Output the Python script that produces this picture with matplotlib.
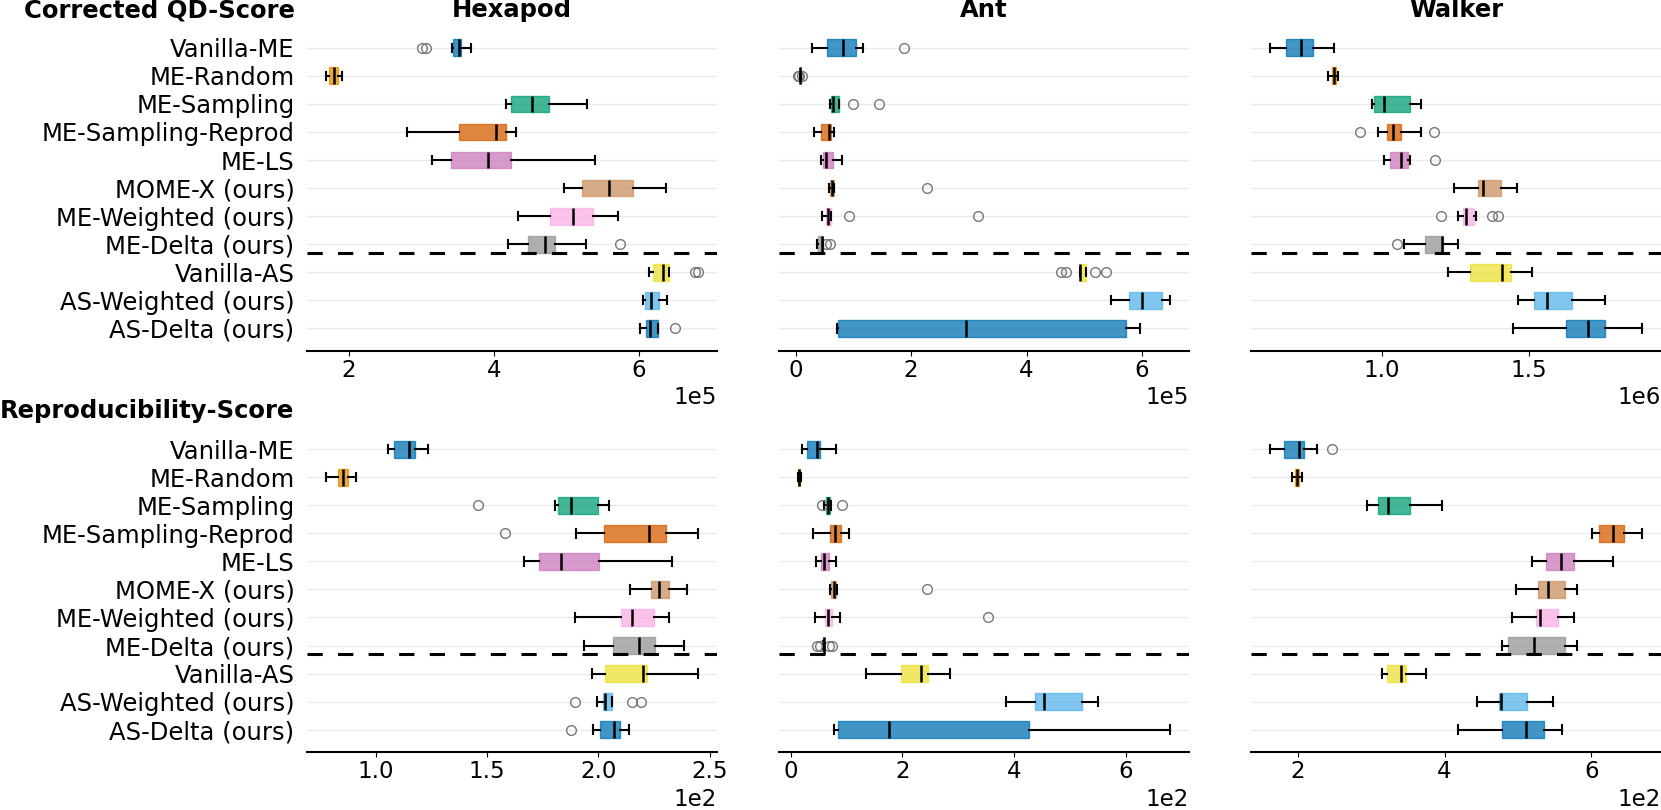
import numpy as np
import matplotlib
matplotlib.use('Agg')
import matplotlib.pyplot as plt
import seaborn as sns

methods = ['Vanilla-ME', 'ME-Random', 'ME-Sampling', 'ME-Sampling-Reprod', 'ME-LS',
           'MOME-X (ours)', 'ME-Weighted (ours)', 'ME-Delta (ours)',
           'Vanilla-AS', 'AS-Weighted (ours)', 'AS-Delta (ours)']
envs = ['Hexapod', 'Ant', 'Walker']
row_names = ['Corrected QD-Score', 'Reproducibility-Score']

# box stats per method: [whislo, q1, med, q3, whishi]
# Corrected QD-Score, hexapod (x1e5)
hexapod_qd = [[3.43, 3.44, 3.52, 3.55, 3.69], [1.68, 1.73, 1.79, 1.85, 1.90],
              [4.17, 4.24, 4.53, 4.76, 5.28], [2.80, 3.52, 4.03, 4.17, 4.30],
              [3.15, 3.41, 3.92, 4.24, 5.40], [4.97, 5.22, 5.59, 5.92, 6.37],
              [4.33, 4.77, 5.09, 5.37, 5.71], [4.19, 4.47, 4.70, 4.84, 5.27],
              [6.14, 6.20, 6.34, 6.42, 6.42], [6.06, 6.09, 6.17, 6.28, 6.39],
              [6.02, 6.10, 6.15, 6.26, 6.26]]
hexapod_qd_out = [[3.01, 3.07], [], [], [], [], [], [], [5.74], [6.78, 6.82], [], [6.50]]

# ant (x1e5)
ant_qd = [[0.29, 0.54, 0.82, 1.05, 1.17], [0.07, 0.075, 0.08, 0.085, 0.09],
          [0.59, 0.62, 0.65, 0.76, 0.755], [0.31, 0.44, 0.58, 0.62, 0.66],
          [0.44, 0.47, 0.53, 0.65, 0.81], [0.58, 0.59, 0.63, 0.67, 0.67],
          [0.46, 0.53, 0.56, 0.62, 0.62], [0.37, 0.39, 0.45, 0.47, 0.47],
          [4.92, 4.92, 4.93, 5.03, 5.03], [5.47, 5.77, 6.00, 6.35, 6.49],
          [0.72, 0.73, 2.95, 5.73, 5.97]]
ant_qd_out = [[1.87], [0.035, 0.06, 0.11], [1.00, 1.44], [], [], [2.28], [0.93, 3.16],
              [0.52, 0.59], [4.60, 4.69, 5.18, 5.38], [], []]

# walker (x1e6)
walker_qd = [[0.617, 0.671, 0.724, 0.764, 0.838], [0.817, 0.828, 0.835, 0.844, 0.851],
             [0.965, 0.972, 1.007, 1.096, 1.132], [0.986, 1.016, 1.036, 1.066, 1.134],
             [1.007, 1.026, 1.066, 1.088, 1.097], [1.246, 1.329, 1.346, 1.407, 1.462],
             [1.260, 1.277, 1.286, 1.315, 1.321], [1.075, 1.148, 1.206, 1.208, 1.260],
             [1.226, 1.300, 1.409, 1.441, 1.513], [1.465, 1.518, 1.563, 1.649, 1.762],
             [1.448, 1.628, 1.703, 1.760, 1.888]]
walker_qd_out = [[], [], [], [0.925, 1.178], [1.181], [], [1.200, 1.375, 1.394],
                 [1.052], [], [], []]

# Reproducibility-Score (x1e2)
hexapod_rep = [[1.055, 1.082, 1.148, 1.175, 1.235], [0.775, 0.832, 0.852, 0.874, 0.910],
               [1.807, 1.819, 1.879, 1.998, 2.049], [1.901, 2.025, 2.226, 2.304, 2.449],
               [1.665, 1.732, 1.834, 2.001, 2.329], [2.144, 2.235, 2.274, 2.317, 2.400],
               [1.895, 2.102, 2.153, 2.251, 2.316], [1.934, 2.064, 2.183, 2.254, 2.383],
               [1.970, 2.031, 2.202, 2.220, 2.448], [1.993, 2.021, 2.031, 2.063, 2.063],
               [1.976, 2.009, 2.069, 2.099, 2.138]]
hexapod_rep_out = [[], [], [1.461], [1.581], [], [], [], [], [], [1.894, 2.151, 2.193], [1.879]]

ant_rep = [[0.191, 0.287, 0.460, 0.514, 0.813], [0.12, 0.13, 0.149, 0.17, 0.185],
           [0.598, 0.634, 0.669, 0.705, 0.717], [0.40, 0.693, 0.789, 0.891, 1.034],
           [0.448, 0.532, 0.598, 0.681, 0.807], [0.699, 0.717, 0.765, 0.813, 0.819],
           [0.436, 0.610, 0.657, 0.729, 0.879], [0.57, 0.575, 0.586, 0.60, 0.60],
           [1.339, 1.973, 2.337, 2.451, 2.851], [3.861, 4.369, 4.531, 5.218, 5.499],
           [0.765, 0.837, 1.763, 4.268, 6.802]]
ant_rep_out = [[], [], [0.556, 0.915], [], [], [2.44], [3.527],
               [0.466, 0.514, 0.687, 0.735], [], [], []]

walker_rep = [[1.617, 1.818, 2.023, 2.082, 2.264], [1.918, 1.968, 1.991, 2.014, 2.055],
              [2.948, 3.089, 3.230, 3.526, 3.968], [6.009, 6.109, 6.292, 6.451, 6.697],
              [5.198, 5.385, 5.585, 5.759, 6.296], [4.980, 5.280, 5.417, 5.649, 5.804],
              [4.925, 5.248, 5.308, 5.544, 5.768], [4.788, 4.866, 5.221, 5.636, 5.804],
              [3.153, 3.212, 3.412, 3.481, 3.745], [4.446, 4.747, 4.770, 5.121, 5.485],
              [4.187, 4.779, 5.107, 5.353, 5.604]]
walker_rep_out = [[2.465], [], [], [], [], [], [], [], [], [], []]

panels = [
    [(hexapod_qd, hexapod_qd_out, 1e5), (ant_qd, ant_qd_out, 1e5), (walker_qd, walker_qd_out, 1e6)],
    [(hexapod_rep, hexapod_rep_out, 1e2), (ant_rep, ant_rep_out, 1e2), (walker_rep, walker_rep_out, 1e2)],
]

colors = sns.color_palette('colorblind', 10)
colors = [colors[i % 10] for i in range(len(methods))]

fs = 17.5
fs_x = 16.5
plt.rcParams['font.size'] = fs

fig = plt.figure(figsize=(16.61, 8.10), dpi=100)
lefts = [0.1848, 0.469, 0.7532]
w = 0.2468
bottoms = [0.567, 0.0715]
h = 0.4016

for r in range(2):
    for c in range(3):
        ax = fig.add_axes([lefts[c], bottoms[r], w, h])
        box, out, scale = panels[r][c]
        stats = []
        for m, vals, fl in zip(methods, box, out):
            stats.append(dict(whislo=vals[0] * scale, q1=vals[1] * scale, med=vals[2] * scale,
                              q3=vals[3] * scale, whishi=vals[4] * scale,
                              fliers=np.array(fl) * scale, label=m))
        bp = ax.bxp(stats, positions=range(len(methods)), widths=0.6,
                    orientation='horizontal', patch_artist=True,
                    medianprops=dict(color='black', lw=1.8),
                    whiskerprops=dict(color='black', lw=1.5),
                    capprops=dict(color='black', lw=1.5),
                    flierprops=dict(marker='o', mfc='none', mec='#777777', ms=7, mew=1))
        for patch, col in zip(bp['boxes'], colors):
            patch.set_facecolor(col)
            patch.set_edgecolor(col)
            patch.set_alpha(0.75)
            patch.set_linewidth(1)

        ax.set_ylim(10.8, -0.8)
        ax.set_yticks(range(len(methods)))
        if c == 0:
            ax.set_yticklabels(methods)
        else:
            ax.set_yticklabels([])
        ax.tick_params(axis='y', length=0, pad=9, labelsize=fs)
        ax.tick_params(axis='x', labelsize=fs_x, pad=2.5)
        ax.grid(axis='y', color='#ebebeb', lw=1)
        ax.set_axisbelow(True)
        ax.axhline(7.3, color='black', lw=2.2, ls=(0, (5, 5)))
        for s in ['left', 'top', 'right']:
            ax.spines[s].set_visible(False)
        ax.spines['bottom'].set_linewidth(1.5)
        ax.ticklabel_format(axis='x', style='sci', scilimits=(0, 0))
        ax.xaxis.get_offset_text().set_fontsize(fs_x)
        if r == 0:
            ax.set_title(envs[c], fontweight='bold', fontsize=fs)
        if c == 0:
            ax.annotate(row_names[r], xy=(0, 1), xycoords='axes fraction',
                        xytext=(-9, 6), textcoords='offset points',
                        ha='right', va='baseline', fontweight='bold', fontsize=fs)

fig.savefig('out.png', dpi=100)
